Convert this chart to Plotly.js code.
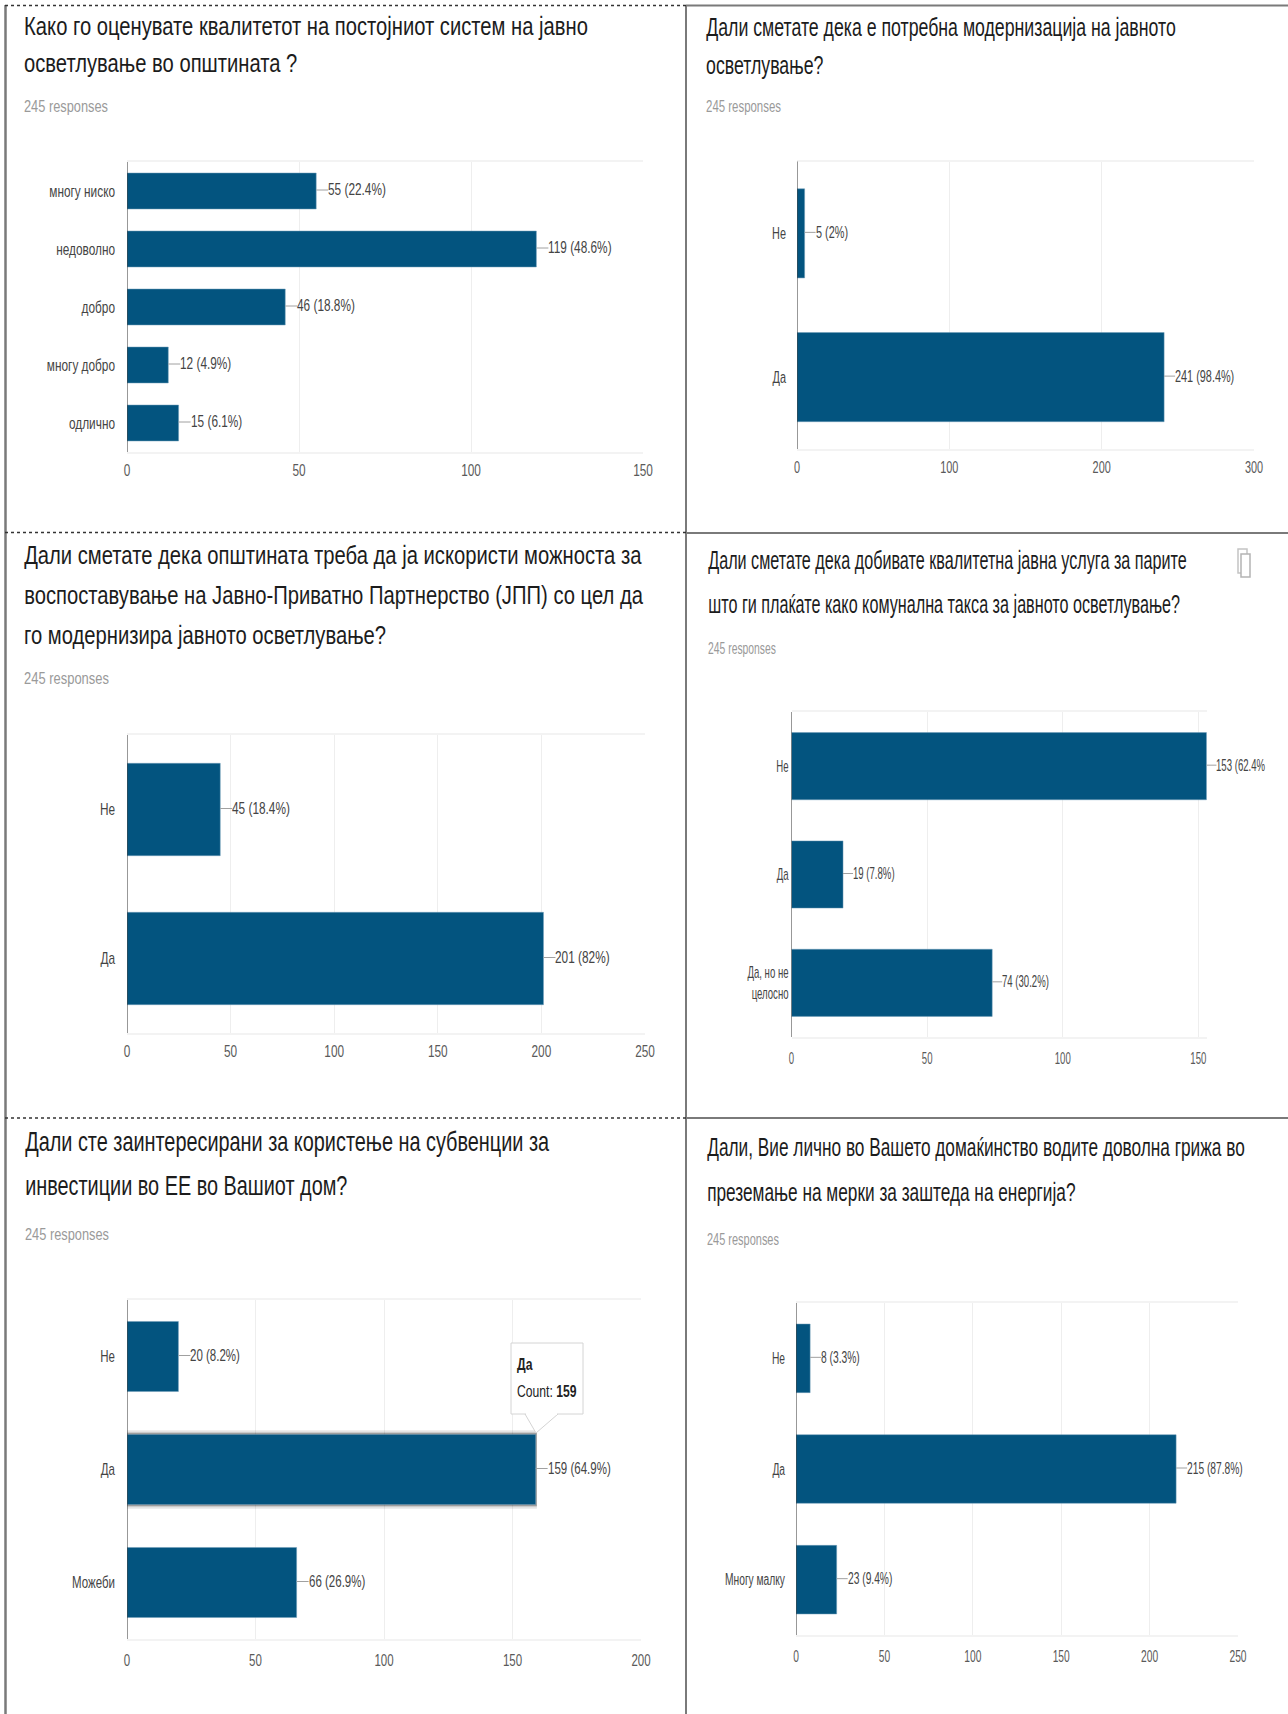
<!DOCTYPE html>
<html><head><meta charset="utf-8">
<script src="https://cdn.plot.ly/plotly-3.0.1.min.js"></script>
<style>html,body{margin:0;padding:0;background:#fff}</style></head>
<body><div id="chart"></div>
<script>
const W = 1288, H = 1714;
const FONT = '"Liberation Sans",Arial,sans-serif';

const q1Categories = ['многу ниско','недоволно','добро','многу добро','одлично'];
const q1Values = [55,119,46,12,15];
const q1Labels = ['55 (22.4%)','119 (48.6%)','46 (18.8%)','12 (4.9%)','15 (6.1%)'];
const q1Title = ['Како го оценувате квалитетот на постојниот систем на јавно','осветлување во општината ?'];

const q2Categories = ['Не','Да'];
const q2Values = [5,241];
const q2Labels = ['5 (2%)','241 (98.4%)'];
const q2Title = ['Дали сметате дека е потребна модернизација на јавното','осветлување?'];

const q3Categories = ['Не','Да'];
const q3Values = [45,201];
const q3Labels = ['45 (18.4%)','201 (82%)'];
const q3Title = ['Дали сметате дека општината треба да ја искористи можноста за','воспоставување на Јавно-Приватно Партнерство (ЈПП) со цел да','го модернизира јавното осветлување?'];

const q4Categories = ['Не','Да','Да, но не<br>целосно'];
const q4Values = [153,19,74];
const q4Labels = ['153 (62.4%','19 (7.8%)','74 (30.2%)'];
const q4Title = ['Дали сметате дека добивате квалитетна јавна услуга за парите','што ги плаќате како комунална такса за јавното осветлување?'];

const q5Categories = ['Не','Да','Можеби'];
const q5Values = [20,159,66];
const q5Labels = ['20 (8.2%)','159 (64.9%)','66 (26.9%)'];
const q5Title = ['Дали сте заинтересирани за користење на субвенции за','инвестиции во ЕЕ во Вашиот дом?'];

const q6Categories = ['Не','Да','Многу малку'];
const q6Values = [8,215,23];
const q6Labels = ['8 (3.3%)','215 (87.8%)','23 (9.4%)'];
const q6Title = ['Дали, Вие лично во Вашето домаќинство водите доволна грижа во','преземање на мерки за заштеда на енергија?'];

const responsesText = '245 responses';

const panels = [
 {c:q1Categories,v:q1Values,l:q1Labels,t:q1Title,max:150,dt:50,box:[127,643,162,452],tx:22,ty:[26,63.5],sy:106,fs:25,tw:564,sw:84,k:.74,so:6,dy:-3.3,yso:11,ax:12},
 {c:q2Categories,v:q2Values,l:q2Labels,t:q2Title,max:300,dt:100,box:[797,1254,161.5,449],tx:704,ty:[27,64.5],sy:106,fs:25,tw:470,sw:75,k:.68,so:3,dy:0,yso:10,ax:11},
 {c:q3Categories,v:q3Values,l:q3Labels,t:q3Title,max:250,dt:50,box:[127,645,735,1033],tx:22,ty:[555,595,635],sy:678,fs:26,tw:618,sw:85,k:.74,so:6,dy:-3.3,yso:11,ax:12},
 {c:q4Categories,v:q4Values,l:q4Labels,t:q4Title,max:153.2,dt:50,box:[791.5,1207,712,1037],tx:705.5,ty:[560,603.5],sy:649,fs:26,tw:479,sw:68,k:.60,so:6,dy:0,yso:2,ax:10},
 {c:q5Categories,v:q5Values,l:q5Labels,t:q5Title,max:200,dt:50,box:[127,641,1300,1639],tx:23,ty:[1141.5,1186],sy:1234.5,fs:27,tw:525,sw:84,k:.72,so:6,dy:0,yso:11,ax:12},
 {c:q6Categories,v:q6Values,l:q6Labels,t:q6Title,max:250,dt:50,box:[796,1238,1303,1635],tx:705,ty:[1147,1192],sy:1239,fs:26,tw:538,sw:72,k:.64,so:6,dy:0,yso:10,ax:11}
];

const BAR = '#03547f', GRID = '#eeeeee';
const px = x => x / W, py = y => 1 - y / H;
const data = [], annotations = [], shapes = [], fits = [];
const layout = {
  width:W, height:H, margin:{l:0,r:0,t:0,b:0}, paper_bgcolor:'#fff', plot_bgcolor:'#fff',
  showlegend:false, barmode:'overlay', font:{family:FONT,color:'#444'},
  annotations, shapes, hovermode:false
};
const addAnn = (a,fit) => { annotations.push(a); fits.push(fit); };

panels.forEach((p,i)=>{
  const n = i ? String(i+1) : '';
  const xa='x'+n, ya='y'+n;
  const [x0,x1,y0,y1] = p.box;
  layout['xaxis'+n] = {
    domain:[px(x0),px(x1)], anchor:ya, range:[0,p.max], dtick:p.dt, tick0:0, fixedrange:true,
    gridcolor:GRID, gridwidth:1, zeroline:false, showline:true, linecolor:'#f3f3f3', linewidth:2, mirror:true,
    ticks:'', ticklabelstandoff:p.so, tickfont:{family:FONT,size:16,color:'#5a5a5a'}
  };
  layout['yaxis'+n] = {
    domain:[py(y1),py(y0)], anchor:xa, type:'category', categoryorder:'array', categoryarray:p.c,
    autorange:false, range:[p.c.length-0.5,-0.5], fixedrange:true,
    showgrid:false, zeroline:false, showline:false, ticks:'', ticklabelstandoff:p.yso,
    tickfont:{family:FONT,size:16,color:'#444'}
  };
  shapes.push({type:'line',xref:xa,yref:ya+' domain',x0:0,x1:0,y0:0,y1:1,line:{color:'#333',width:1},layer:'above'});

  if(i===4){ // hover shadow of the highlighted bar
    [[0.70,'rgba(0,0,0,0.07)'],[0.67,'rgba(0,0,0,0.14)'],[0.645,'rgba(0,0,0,0.22)']].forEach(([w,col])=>{
      data.push({type:'bar',orientation:'h',x:[p.v[1]+0.5],y:[p.c[1]],width:[w],xaxis:xa,yaxis:ya,marker:{color:col,line:{width:0}},hoverinfo:'skip'});
    });
  }
  data.push({type:'bar',orientation:'h',x:p.v,y:p.c,width:0.62,xaxis:xa,yaxis:ya,
    marker:{color:BAR,line:{color:'#6f9db8',width:0.5}},hoverinfo:'skip'});

  p.v.forEach((v,k)=>{
    addAnn({x:v,y:p.c[k],xref:xa,yref:ya,text:p.l[k],showarrow:true,arrowhead:0,arrowwidth:1,arrowcolor:'#a0a0a0',
      axref:'pixel',ayref:'pixel',ax:p.ax,ay:0,xanchor:'left',yanchor:'middle',borderpad:0,borderwidth:0,standoff:0,
      font:{family:FONT,size:16,color:'#444'},yshift:1},{k:p.k});
  });
  const firstLine = annotations.length;
  p.t.forEach((line,k)=>{
    addAnn({xref:'paper',yref:'paper',x:px(p.tx),y:py(p.ty[k]),text:line,showarrow:false,xanchor:'left',yanchor:'middle',
      font:{family:FONT,size:p.fs,color:'#1c1c1c'}},{line:firstLine,w:p.tw});
  });
  addAnn({xref:'paper',yref:'paper',x:px(p.tx),y:py(p.sy),text:responsesText,showarrow:false,xanchor:'left',yanchor:'middle',
    font:{family:FONT,size:16,color:'#9a9a9a'}},{w:p.sw});
});

const frame = (a,b,c,d,color,width,dash)=>shapes.push({type:'line',xref:'paper',yref:'paper',x0:px(a),x1:px(b),y0:py(c),y1:py(d),line:{color,width,dash:dash||'solid'},layer:'above'});
frame(5.5,5.5,5,H,'#7a7a7a',2.5);
frame(686,686,5,H,'#7a7a7a',2);
frame(5,686,5.5,5.5,'#333',1.5,'dot');
frame(686,W,5.5,5.5,'#7a7a7a',2);
frame(5,686,532.5,532.5,'#333',1.5,'dot');
frame(686,W,533,533,'#7a7a7a',2);
frame(5,686,1118,1118,'#333',1.5,'dot');
frame(686,W,1118,1118,'#7a7a7a',2);

// tooltip
shapes.push({type:'path',xref:'paper',yref:'paper',
  path:`M ${px(525)} ${py(1414)} L ${px(536)} ${py(1433)} L ${px(558)} ${py(1414)} Z`,
  fillcolor:'#fff',line:{color:'#d4d4d4',width:1},layer:'above'});
shapes.push({type:'rect',xref:'paper',yref:'paper',x0:px(511),x1:px(583),y0:py(1343),y1:py(1414),
  fillcolor:'#fff',line:{color:'#d4d4d4',width:1},layer:'above'});
shapes.push({type:'line',xref:'paper',yref:'paper',x0:px(526),x1:px(557),y0:py(1414),y1:py(1414),line:{color:'#fff',width:2},layer:'above'});
addAnn({xref:'paper',yref:'paper',x:px(515),y:py(1364),text:'<b>Да</b>',showarrow:false,xanchor:'left',yanchor:'middle',font:{family:FONT,size:16,color:'#222'}},{k:.76});
addAnn({xref:'paper',yref:'paper',x:px(515),y:py(1391),text:'Count: <b>159</b>',showarrow:false,xanchor:'left',yanchor:'middle',font:{family:FONT,size:16,color:'#222'}},{k:.76});

// copy icon
shapes.push({type:'rect',xref:'paper',yref:'paper',x0:px(1238),x1:px(1247),y0:py(549),y1:py(573),line:{color:'#c4c4c4',width:1.5},fillcolor:'#fff'});
shapes.push({type:'rect',xref:'paper',yref:'paper',x0:px(1241),x1:px(1250),y0:py(554),y1:py(577),line:{color:'#b4b4b4',width:1.5},fillcolor:'#fff'});

// The reference's text is horizontally squeezed; no narrow face is installed, so scale about each text's anchor.
function squeeze(el,k,side,dy){
  const b = el.getBBox();
  const a = side==='left' ? b.x : side==='right' ? b.x+b.width : b.x+b.width/2;
  const old = el.getAttribute('transform') || '';
  el.setAttribute('transform',`${old} translate(${a},${dy||0}) scale(${k},1) translate(${-a},0)`);
}
Plotly.newPlot('chart',data,layout,{displayModeBar:false,staticPlot:true}).then(gd=>{
  const nodes = gd.querySelectorAll('.annotation');
  const textOf = i => nodes[i].querySelector('text');
  const widths = [...nodes].map(nd=>nd.querySelector('text').getBBox().width);
  nodes.forEach((nd,i)=>{
    const f = fits[i];
    const k = f.k !== undefined ? f.k : f.w / widths[f.line !== undefined ? f.line : i];
    squeeze(textOf(i),k,'left');
  });
  panels.forEach((p,i)=>{
    const n = i ? String(i+1) : '';
    gd.querySelectorAll(`.x${n}tick text`).forEach(t=>squeeze(t,p.k,'mid',p.dy));
    gd.querySelectorAll(`.y${n}tick text`).forEach(t=>squeeze(t,p.k,'right'));
  });
});
</script></body></html>
